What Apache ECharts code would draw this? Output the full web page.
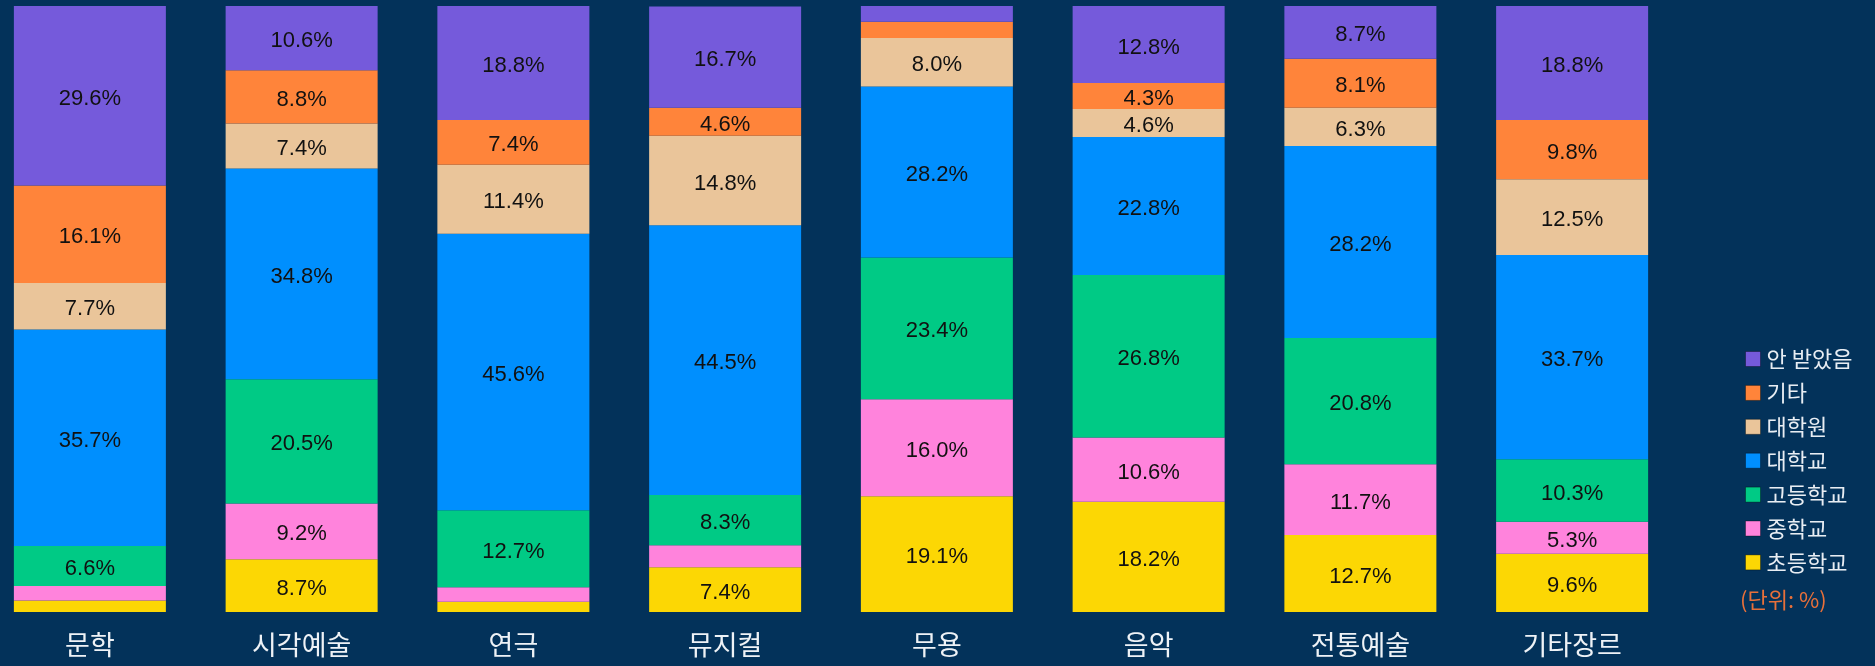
<!DOCTYPE html>
<html>
<head>
<meta charset="utf-8">
<script src="https://cdn.jsdelivr.net/npm/echarts@6/dist/echarts.min.js"></script>
<style>
  html, body { margin: 0; padding: 0; background: #03325a; overflow: hidden; }
  /* shifted left so the first bar sits close to the page edge, like the original */
  #chart { position: absolute; left: -16px; top: 0; width: 1891px; height: 666px; }
</style>
</head>
<body>
<div id="chart"></div>
<script>
// 장르별 최종 학력 분포 (단위: %)
var categories = ['문학', '시각예술', '연극', '뮤지컬', '무용', '음악', '전통예술', '기타장르'];
var elementary = [1.9, 8.7, 1.7, 7.4, 19.1, 18.2, 12.7, 9.6];   // 초등학교
var middle     = [2.4, 9.2, 2.4, 3.6, 16.0, 10.6, 11.7, 5.3];   // 중학교
var high       = [6.6, 20.5, 12.7, 8.3, 23.4, 26.8, 20.8, 10.3]; // 고등학교
var university = [35.7, 34.8, 45.6, 44.5, 28.2, 22.8, 31.7, 33.7]; // 대학교
var graduate   = [7.7, 7.4, 11.4, 14.8, 8.0, 4.6, 6.3, 12.5];   // 대학원
var other      = [16.1, 8.8, 7.4, 4.6, 2.7, 4.3, 8.1, 9.8];     // 기타
var none       = [29.6, 10.6, 18.8, 16.7, 2.6, 12.8, 8.7, 18.8]; // 안 받았음

// the source prints a different number than the bar height here
var printedLabels = { '전통예술|대학교': '28.2' };

var seriesDefs = [
  { name: '초등학교', data: elementary, color: '#fcd704' },
  { name: '중학교', data: middle, color: '#ff83dc' },
  { name: '고등학교', data: high, color: '#00ca85' },
  { name: '대학교', data: university, color: '#008ffe' },
  { name: '대학원', data: graduate, color: '#eac59a' },
  { name: '기타', data: other, color: '#ff843a' },
  { name: '안 받았음', data: none, color: '#755adb' }
];

var series = [];
for (var i in seriesDefs) {
  var d = seriesDefs[i];
  series.push({
    name: d.name,
    type: 'bar',
    stack: 'total',
    barWidth: 152,
    data: d.data,
    itemStyle: { color: d.color },
    label: {
      show: true,
      position: 'inside',
      offset: [0, 3],
      color: '#111',
      fontFamily: 'Liberation Sans',
      fontSize: 22,
      formatter: function (p) {
        if (p.value < 4) return '';
        var key = p.name + '|' + p.seriesName;
        if (printedLabels[key]) return printedLabels[key] + '%';
        return p.value.toFixed(1) + '%';
      }
    }
  });
}

var legendOrder = seriesDefs.map(function (s) { return s.name; }).reverse();

var myChart = echarts.init(document.getElementById('chart'));
var option = {
  backgroundColor: '#03325a',
  animation: false,
  grid: { left: 0, width: 1694, top: 6, bottom: 54 },
  legend: {
    data: legendOrder,
    orient: 'vertical',
    left: 1756,
    top: 343,
    itemWidth: 15,
    itemHeight: 15,
    itemGap: 11.9,
    icon: 'rect',
    itemStyle: { borderColor: 'rgba(0,0,0,0.35)', borderWidth: 1 },
    textStyle: {
      color: '#e8edf3',
      fontSize: 22,
      fontFamily: 'Noto Sans CJK KR',
      padding: [0, 0, 0, 1]
    }
  },
  xAxis: {
    type: 'category',
    data: categories,
    axisLine: { show: false },
    axisTick: { show: false },
    axisLabel: {
      color: '#eef2f6',
      fontSize: 27,
      fontFamily: 'Noto Sans CJK KR',
      margin: 19
    }
  },
  yAxis: {
    type: 'value',
    min: 0,
    max: 100,
    show: false
  },
  graphic: [{
    type: 'text',
    left: 1756,
    top: 589,
    style: {
      text: '(단위: %)',
      fill: '#e8703a',
      fontSize: 22,
      fontFamily: 'Noto Sans CJK KR'
    }
  }],
  series: series
};
myChart.setOption(option);
</script>
</body>
</html>
